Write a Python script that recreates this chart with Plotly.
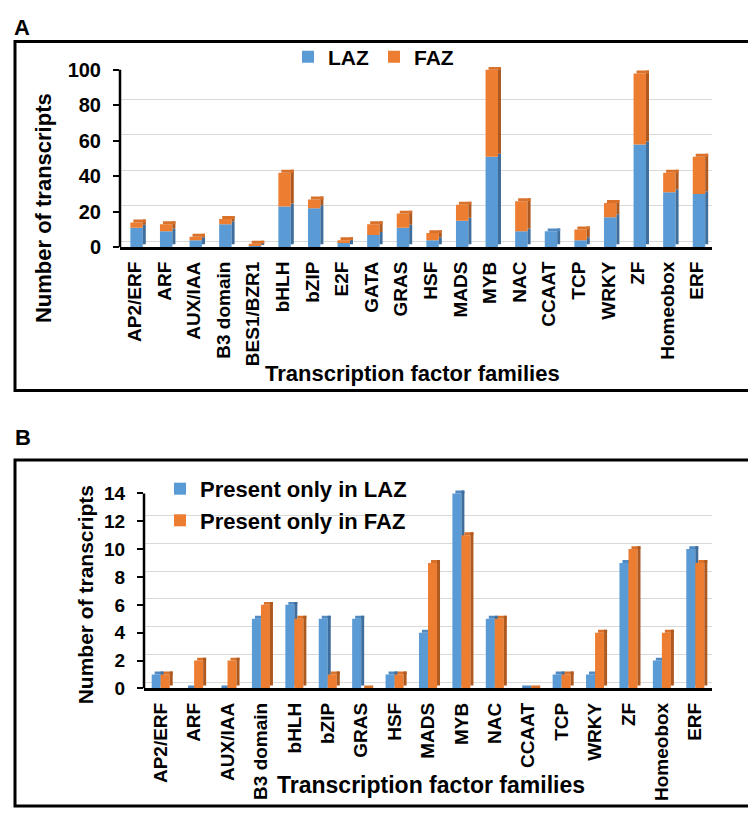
import plotly.graph_objects as go

# ---------------- data ----------------
cats_a = ["AP2/ERF", "ARF", "AUX/IAA", "B3 domain", "BES1/BZR1", "bHLH", "bZIP", "E2F",
          "GATA", "GRAS", "HSF", "MADS", "MYB", "NAC", "CCAAT", "TCP", "WRKY", "ZF",
          "Homeobox", "ERF"]
laz_a = [11, 9, 4, 13, 1, 23, 22, 3, 7, 11, 4, 15, 51, 9, 9, 4, 17, 58, 31, 30]
faz_a = [3, 4, 2, 3, 1, 19, 5, 1, 6, 8, 4, 9, 49, 17, 0, 6, 8, 40, 11, 21]
yticks_a = [0, 20, 40, 60, 80, 100]

cats_b = ["AP2/ERF", "ARF", "AUX/IAA", "B3 domain", "bHLH", "bZIP", "GRAS", "HSF", "MADS",
          "MYB", "NAC", "CCAAT", "TCP", "WRKY", "ZF", "Homeobox", "ERF"]
laz_b = [1, 0, 0, 5, 6, 5, 5, 1, 4, 14, 5, 0, 1, 1, 9, 2, 10]
faz_b = [1, 2, 2, 6, 5, 1, 0, 1, 9, 11, 5, 0, 1, 4, 10, 4, 9]
yticks_b = [0, 2, 4, 6, 8, 10, 12, 14]

legend_a = ["LAZ", "FAZ"]
legend_b = ["Present only in LAZ", "Present only in FAZ"]
xtitle = "Transcription factor families"
ytitle = "Number of transcripts"

# ---------------- style ----------------
W, H = 756, 815
BLUE, BLUE_TOP, BLUE_SIDE = "#5B9BD5", "#4F8AC2", "#3F6E9C"
ORANGE, ORANGE_TOP, ORANGE_SIDE = "#ED7D31", "#D9712B", "#AE5920"
FONT = "Liberation Sans, Arial, sans-serif"


def px(x):
    return x / W


def py(y):
    return 1 - y / H


# panel geometry (pixels)
A_X0, A_X1, A_Y0, A_YTOP = 112, 704, 239, 58
B_X0, B_X1, B_Y0, B_YTOP = 136, 704, 689, 490
GRID_SHIFT = 6   # back-wall gridline offset (px)
DEPTH = 3        # 3D depth (px)

ppu_a = (A_Y0 - A_YTOP) / yticks_a[-1]
ppu_b = (B_Y0 - B_YTOP) / yticks_b[-1]
dA, dB = GRID_SHIFT / ppu_a, GRID_SHIFT / ppu_b
depA, depB = DEPTH / ppu_a, DEPTH / ppu_b
sA = DEPTH / ((A_X1 - A_X0) / len(cats_a))
sB = DEPTH / ((B_X1 - B_X0) / len(cats_b))

fig = go.Figure()

# ---------------- panel A (stacked 3D-look columns) ----------------
fo, fw = -0.15, 0.42
tot_a = [l + f for l, f in zip(laz_a, faz_a)]
nA = len(cats_a)
common = dict(xaxis="x", yaxis="y", marker_line_width=0, opacity=1)
fig.add_trace(go.Bar(x=cats_a, y=laz_a, base=[0] * nA, offset=fo, width=fw,
                     marker_color=BLUE, name=legend_a[0], legend="legend", **common))
fig.add_trace(go.Bar(x=cats_a, y=laz_a, base=[depA] * nA, offset=fo + fw, width=sA,
                     marker_color=BLUE_SIDE, showlegend=False, hoverinfo="skip", **common))
fig.add_trace(go.Bar(x=cats_a, y=faz_a, base=laz_a, offset=fo, width=fw,
                     marker_color=ORANGE, name=legend_a[1], legend="legend", **common))
fig.add_trace(go.Bar(x=cats_a, y=faz_a, base=[l + depA for l in laz_a], offset=fo + fw, width=sA,
                     marker_color=ORANGE_SIDE, showlegend=False, hoverinfo="skip", **common))
fig.add_trace(go.Bar(x=cats_a, y=[depA] * nA, base=tot_a, offset=fo + sA, width=fw,
                     marker_color=[ORANGE_TOP if f > 0 else BLUE_TOP for f in faz_a],
                     showlegend=False, hoverinfo="skip", **common))
fig.add_trace(go.Scatter(x=[cats_a[0]], y=[None], xaxis="x", yaxis="y3",
                         showlegend=False, hoverinfo="skip"))

# ---------------- panel B (clustered 3D-look columns) ----------------
bw = 0.27
nB = len(cats_b)
commonB = dict(xaxis="x2", yaxis="y2", marker_line_width=0, opacity=1)
fig.add_trace(go.Bar(x=cats_b, y=laz_b, base=[0] * nB, offset=-bw, width=bw,
                     marker_color=BLUE, name=legend_b[0], legend="legend2", **commonB))
fig.add_trace(go.Bar(x=cats_b, y=[depB] * nB, base=laz_b, offset=-bw + sB, width=bw,
                     marker_color=BLUE_TOP, showlegend=False, hoverinfo="skip", **commonB))
fig.add_trace(go.Bar(x=cats_b, y=laz_b, base=[depB] * nB, offset=0, width=sB,
                     marker_color=BLUE_SIDE, showlegend=False, hoverinfo="skip", **commonB))
fig.add_trace(go.Bar(x=cats_b, y=faz_b, base=[0] * nB, offset=0, width=bw,
                     marker_color=ORANGE, name=legend_b[1], legend="legend2", **commonB))
fig.add_trace(go.Bar(x=cats_b, y=[depB] * nB, base=faz_b, offset=sB, width=bw,
                     marker_color=ORANGE_TOP, showlegend=False, hoverinfo="skip", **commonB))
fig.add_trace(go.Bar(x=cats_b, y=faz_b, base=[depB] * nB, offset=bw, width=sB,
                     marker_color=ORANGE_SIDE, showlegend=False, hoverinfo="skip", **commonB))
fig.add_trace(go.Scatter(x=[cats_b[0]], y=[None], xaxis="x2", yaxis="y4",
                         showlegend=False, hoverinfo="skip"))

# ---------------- axes ----------------
xcommon = dict(type="category", showline=True, linecolor="black", linewidth=2.5,
               ticks="", tickangle=-90, showgrid=False, zeroline=False,
               tickfont=dict(family=FONT, size=19, color="black", weight="bold"),
               ticklabelstandoff=4)
ycommon = dict(ticks="outside", ticklen=6, tickwidth=2, tickcolor="black",
               showline=False, showgrid=False, zeroline=False,
               tickfont=dict(family=FONT, size=20, color="black", weight="bold"),
               ticklabelstandoff=8)
gcommon = dict(showticklabels=False, ticks="", showline=False, zeroline=False,
               showgrid=True, gridcolor="#D9D9D9", gridwidth=1.3)

fig.update_layout(
    width=W, height=H, autosize=False,
    margin=dict(l=0, r=0, t=0, b=0),
    paper_bgcolor="white", plot_bgcolor="rgba(0,0,0,0)",
    barmode="overlay",
    font=dict(family=FONT, color="black"),
    xaxis=dict(domain=[px(A_X0), px(A_X1)], anchor="y", range=[-0.5, nA - 0.5], **xcommon),
    yaxis=dict(domain=[py(A_Y0), py(A_YTOP - GRID_SHIFT)], anchor="x",
               range=[0, yticks_a[-1] + dA], tickvals=yticks_a, **ycommon),
    yaxis3=dict(overlaying="y", anchor="x", range=[-dA, yticks_a[-1]], tickvals=yticks_a, **gcommon),
    xaxis2=dict(domain=[px(B_X0), px(B_X1)], anchor="y2", range=[-0.5, nB - 0.5], **xcommon),
    yaxis2=dict(domain=[py(B_Y0), py(B_YTOP - GRID_SHIFT)], anchor="x2",
                range=[0, yticks_b[-1] + dB], tickvals=yticks_b,
                **{**ycommon, "tickfont": dict(family=FONT, size=19, color="black", weight="bold")}),
    yaxis4=dict(overlaying="y2", anchor="x2", range=[-dB, yticks_b[-1]], tickvals=yticks_b, **gcommon),
    legend=dict(orientation="h", x=px(280), y=py(24), xanchor="left", yanchor="top",
                font=dict(family=FONT, size=21, color="black", weight="bold"),
                bgcolor="rgba(0,0,0,0)", traceorder="normal", itemclick=False),
    legend2=dict(orientation="v", x=px(152), y=py(464), xanchor="left", yanchor="top",
                 font=dict(family=FONT, size=22, color="black", weight="bold"),
                 bgcolor="rgba(0,0,0,0)", traceorder="normal", tracegroupgap=0, itemclick=False),
)

# ---------------- frames, axis lines ----------------
shapes = [
    dict(type="rect", xref="paper", yref="paper", x0=px(7), x1=px(750), y0=py(385), y1=py(29),
         line=dict(color="black", width=3), fillcolor="rgba(0,0,0,0)", layer="above"),
    dict(type="rect", xref="paper", yref="paper", x0=px(7), x1=px(750), y0=py(809), y1=py(456),
         line=dict(color="black", width=3), fillcolor="rgba(0,0,0,0)", layer="above"),
    dict(type="line", xref="x domain", yref="y", x0=0, x1=0, y0=yticks_a[0], y1=yticks_a[-1],
         line=dict(color="black", width=2.5), layer="above"),
    dict(type="line", xref="x2 domain", yref="y2", x0=0, x1=0, y0=yticks_b[0], y1=yticks_b[-1],
         line=dict(color="black", width=2.5), layer="above"),
]
fig.update_layout(shapes=shapes)

bold = lambda s: dict(family=FONT, size=s, color="black", weight="bold")
annotations = [
    dict(text="A", x=px(14), y=py(15), xref="paper", yref="paper", showarrow=False,
         xanchor="center", yanchor="middle", font=bold(22)),
    dict(text="B", x=px(15), y=py(433), xref="paper", yref="paper", showarrow=False,
         xanchor="center", yanchor="middle", font=bold(22)),
    dict(text=xtitle, x=px(404), y=py(368), xref="paper", yref="paper", showarrow=False,
         xanchor="center", yanchor="middle", font=bold(22)),
    dict(text=xtitle, x=px(423), y=py(787), xref="paper", yref="paper", showarrow=False,
         xanchor="center", yanchor="middle", font=bold(23)),
    dict(text=ytitle, x=px(35), y=py(199), xref="paper", yref="paper", showarrow=False,
         textangle=-90, xanchor="center", yanchor="middle", font=bold(22)),
    dict(text=ytitle, x=px(77), y=py(594), xref="paper", yref="paper", showarrow=False,
         textangle=-90, xanchor="center", yanchor="middle", font=bold(21)),
]
fig.update_layout(annotations=annotations)

fig.write_html("out.html")
